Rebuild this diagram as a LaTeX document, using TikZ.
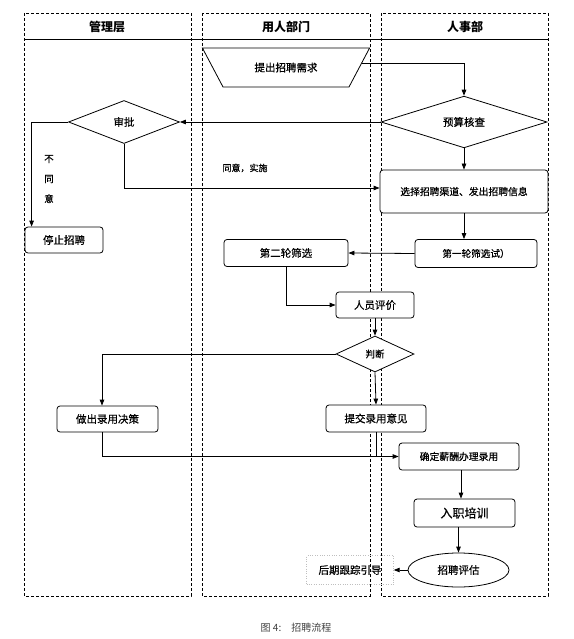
\documentclass[tikz,border=0pt]{standalone}
\usepackage{fontspec}
\setmainfont{Noto Sans CJK SC}
\newfontfamily\semicjk{Noto Sans CJK SC}[FakeBold=0.6]
\usetikzlibrary{shapes.geometric,arrows.meta}
\begin{document}
\begin{tikzpicture}[x=1pt,y=-1pt,
  laneframe/.style={draw, line width=0.8pt, dash pattern=on 3pt off 2pt},
  stepbox/.style={draw, fill=white, rounded corners=3pt, line width=0.8pt, inner sep=0pt, font=\semicjk\fontsize{10.5}{12}\selectfont, align=center},
  decision/.style={draw, fill=white, diamond, line width=0.8pt, inner sep=0pt, font=\semicjk\fontsize{10.5}{12}\selectfont},
  headtext/.style={font=\fontsize{12}{14}\selectfont\bfseries},
  flow/.style={line width=0.8pt, -{Triangle[length=6pt,width=4.5pt]}},
  link/.style={line width=0.8pt}]
\useasboundingbox (0,0) rectangle (573,639);

% swimlanes
\draw[laneframe] (24,13) rectangle (191,596);
\draw[laneframe] (202,13) rectangle (370,596);
\draw[laneframe] (381,13) rectangle (548,596);
\draw[link] (24,39) -- (548,39);
\node[headtext] (h1) at (107,27) {管理层};
\node[headtext] (h2) at (286,27) {用人部门};
\node[headtext] (h3) at (465,27) {人事部};

% nodes
\node[draw, fill=white, trapezium, shape border rotate=180, trapezium left angle=43.2, trapezium right angle=43.2,
      trapezium stretches=true, minimum width=168pt, minimum height=39pt, inner sep=0pt,
      line width=0.8pt, font=\semicjk\fontsize{10.5}{12}\selectfont] (trap) at (286,67.5) {提出招聘需求};
\node[decision, minimum width=166pt, minimum height=43pt] (ys) at (464,122) {预算核查};
\node[decision, minimum width=111pt, minimum height=43pt] (sp) at (124,122) {审批};
\node[stepbox, minimum width=78pt, minimum height=26pt] (stop) at (64,240) {停止招聘};
\node[stepbox, minimum width=168pt, minimum height=43pt, font=\semicjk\fontsize{9.8}{12}\selectfont] (xz) at (464,191.5) {选择招聘渠道、发出招聘信息};
\node[stepbox, minimum width=122pt, minimum height=28pt, font=\semicjk\fontsize{9.6}{12}\selectfont] (r1) at (476,253.5) {第一轮筛选试）};
\node[stepbox, minimum width=124pt, minimum height=27pt] (r2) at (286,253) {第二轮筛选};
\node[stepbox, minimum width=78pt, minimum height=26pt] (py) at (375,305) {人员评价};
\node[decision, minimum width=78pt, minimum height=36pt, font=\semicjk\fontsize{9.5}{11}\selectfont] (pd) at (375,354) {判断};
\node[stepbox, minimum width=101pt, minimum height=26pt] (zc) at (107.5,419) {做出录用决策};
\node[stepbox, minimum width=100pt, minimum height=27pt] (tj) at (376,418.5) {提交录用意见};
\node[stepbox, minimum width=120pt, minimum height=27pt, font=\semicjk\fontsize{9.8}{12}\selectfont] (qd) at (459,456.5) {确定薪酬办理录用};
\node[stepbox, minimum width=101pt, minimum height=28pt, font=\semicjk\fontsize{12}{14}\selectfont] (rz) at (464.5,513) {入职培训};
\node[draw, fill=white, ellipse, line width=0.8pt, inner sep=0pt, minimum width=101pt, minimum height=34pt,
      font=\semicjk\fontsize{10.5}{12}\selectfont] (pg) at (458.5,570) {招聘评估};
\node[draw=black!25, dotted, inner sep=0pt, minimum width=87pt, minimum height=29pt,
      font=\semicjk\fontsize{10.5}{12}\selectfont] (hq) at (350,570) {后期跟踪引导};

% labels
\node[font=\semicjk\fontsize{9.5}{20}\selectfont, align=center] (bty) at (49,179) {不\\同\\意};
\node[font=\semicjk\fontsize{9}{11}\selectfont] (ty) at (245,168) {同意，实施};
\node[font=\fontsize{10}{12}\selectfont, text=black!75] (cap) at (296,628) {图 4:\quad 招聘流程};

% connectors
\draw[flow] (trap.3) -| (ys.north);
\draw[flow] (ys.west) -- (sp.east);
\draw[flow] (sp.west) -| ([xshift=7pt]stop.north west);
\draw[flow] (sp.south) |- ([yshift=3.5pt]xz.west);
\draw[flow] (ys.south) -- (xz.north);
\draw[flow] (xz.south) -- (xz.south |- r1.north);
\draw[flow] (r1.west) -- (r2.east);
\draw[flow] (r2.south) |- (py.west);
\draw[flow] (py.south) -- (pd.north);
\draw[flow] (pd.west) -| ([xshift=-5.5pt]zc.north);
\draw[flow] (pd.south) -- (tj.north);
\draw[flow] ([xshift=-5.5pt]zc.south) |- (qd.west);
\draw[link] (tj.south) -- (tj.south |- qd.west);
\draw[flow] ([xshift=2pt]qd.south) -- ([xshift=2pt]qd.south |- rz.north);
\draw[flow] (pg.north |- rz.south) -- (pg.north);
\draw[flow] (pg.west) -- (hq.east);
\end{tikzpicture}
\end{document}
